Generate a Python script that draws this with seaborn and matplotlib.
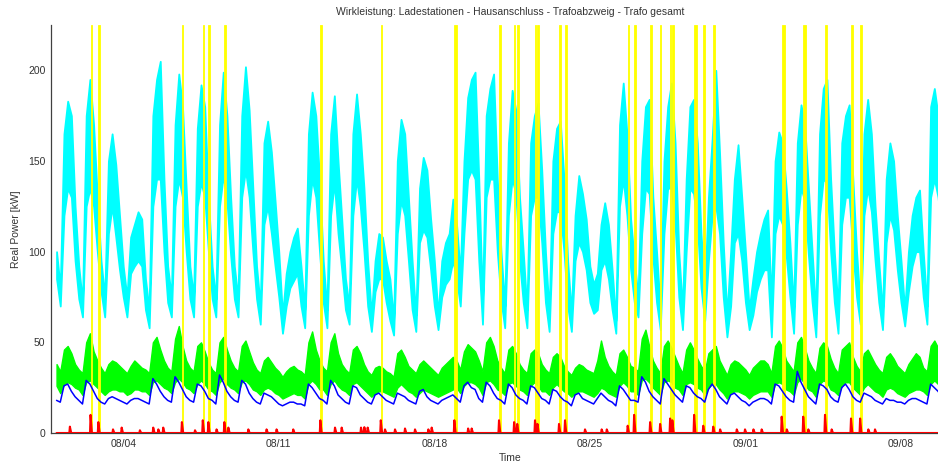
import matplotlib
matplotlib.use("Agg")
import matplotlib.pyplot as plt
import matplotlib.dates as mdates
import numpy as np
import pandas as pd
import seaborn as sns

# ---------------- data ----------------
# 4-hour samples starting 2013-08-01 00:00 (slots 00,04,08,12,16,20 h per day)
start_date = "2013-08-01"

# Trafo gesamt (cyan) - upper / lower envelope of the noisy signal [kW]
trafo_hi = [
    100, 80, 165, 183, 175, 125,   92, 72, 175, 195, 170, 130,   95, 75, 150, 165, 148, 120,
    92, 75, 108, 115, 122, 118,    85, 68, 175, 195, 205, 140,   92, 75, 170, 198, 180, 135,
    92, 75, 168, 192, 180, 130,    92, 74, 170, 199, 175, 130,   92, 74, 175, 202, 178, 135,
    92, 70, 160, 172, 155, 128,    100, 65, 88, 100, 108, 113,   92, 68, 165, 188, 175, 140,
    95, 68, 165, 186, 150, 118,    85, 70, 165, 187, 165, 135,   95, 65, 95, 110, 108, 95,
    85, 62, 150, 173, 165, 130,    95, 65, 135, 152, 145, 118,   95, 65, 95, 105, 110, 129,
    115, 88, 150, 185, 195, 199,   140, 72, 175, 190, 198, 140,  100, 70, 160, 189, 178, 130,
    100, 68, 160, 175, 182, 145,   100, 66, 150, 168, 172, 140,  95, 66, 120, 142, 132, 118,
    92, 82, 88, 115, 127, 115,     90, 62, 170, 193, 165, 118,   95, 75, 150, 180, 184, 130,
    100, 68, 150, 180, 193, 160,   100, 68, 140, 180, 184, 160,  110, 80, 130, 162, 200, 155,
    105, 65, 100, 140, 159, 130,   100, 68, 85, 100, 110, 118,   123, 72, 150, 166, 160, 135,
    105, 68, 160, 181, 170, 135,   100, 66, 165, 190, 195, 140,  100, 68, 160, 175, 181, 140,
    100, 70, 165, 184, 165, 125,   95, 66, 140, 160, 150, 120,   95, 68, 100, 120, 130, 134,
    100, 70, 180, 190, 175, 150,
]
trafo_lo = [
    85, 70, 120, 135, 130, 95,     74, 64, 125, 135, 125, 100,   78, 64, 110, 125, 108, 90,
    75, 64, 88, 92, 95, 92,        68, 58, 125, 140, 140, 100,   72, 64, 125, 140, 130, 100,
    74, 64, 125, 138, 130, 100,    74, 64, 125, 142, 128, 98,    74, 64, 130, 145, 130, 100,
    74, 60, 115, 125, 110, 92,     75, 55, 70, 80, 84, 88,       70, 58, 120, 140, 130, 100,
    72, 58, 120, 138, 110, 90,     68, 60, 120, 140, 125, 100,   70, 56, 78, 85, 85, 72,
    62, 54, 110, 128, 120, 95,     68, 56, 105, 112, 108, 90,    70, 57, 75, 82, 85, 95,
    85, 70, 110, 140, 145, 140,    95, 60, 130, 140, 140, 100,   73, 58, 120, 140, 132, 95,
    72, 58, 120, 130, 130, 105,    72, 56, 110, 122, 122, 100,   70, 56, 95, 105, 100, 90,
    72, 66, 68, 90, 95, 85,        68, 55, 125, 140, 120, 90,    72, 64, 110, 135, 132, 97,
    72, 57, 110, 135, 135, 115,    75, 57, 100, 135, 132, 115,   80, 62, 95, 120, 125, 110,
    75, 53, 70, 105, 110, 95,      72, 57, 65, 78, 85, 90,       90, 53, 110, 120, 115, 98,
    75, 55, 115, 135, 128, 98,     72, 53, 120, 140, 138, 100,   72, 55, 115, 130, 130, 100,
    75, 60, 120, 135, 122, 95,     72, 57, 105, 120, 112, 90,    72, 59, 78, 92, 100, 100,
    75, 60, 130, 140, 130, 110,
]

# Trafoabzweig (green) - upper / lower envelope [kW]
abzweig_hi = [
    38, 34, 46, 48, 44, 38,   35, 33, 50, 55, 45, 40,   36, 33, 38, 40, 39, 37,
    35, 33, 37, 40, 38, 36,   35, 33, 50, 53, 46, 40,   36, 34, 52, 59, 48, 40,
    36, 34, 48, 50, 45, 39,   35, 33, 50, 53, 46, 40,   36, 34, 48, 51, 45, 39,
    35, 33, 40, 42, 39, 36,   34, 31, 34, 36, 37, 35,   34, 32, 50, 56, 46, 40,
    36, 34, 50, 55, 44, 38,   35, 33, 46, 48, 44, 38,   34, 32, 36, 37, 36, 34,
    33, 31, 44, 46, 42, 37,   35, 33, 38, 40, 38, 36,   34, 32, 36, 38, 40, 42,
    40, 35, 45, 49, 47, 45,   40, 34, 50, 53, 48, 40,   36, 33, 46, 48, 44, 38,
    35, 33, 44, 46, 44, 38,   35, 33, 42, 44, 42, 37,   34, 32, 36, 38, 37, 35,
    34, 33, 40, 51, 42, 37,   34, 32, 44, 46, 42, 37,   36, 34, 52, 57, 48, 40,
    36, 33, 48, 51, 47, 42,   37, 33, 46, 50, 46, 41,   37, 34, 44, 46, 48, 40,
    36, 32, 38, 40, 39, 37,   35, 32, 36, 38, 40, 40,   38, 33, 48, 51, 47, 40,
    37, 34, 50, 53, 47, 40,   36, 33, 47, 50, 48, 41,   36, 33, 46, 48, 50, 42,
    37, 34, 44, 46, 42, 38,   35, 33, 42, 44, 41, 37,   35, 33, 38, 41, 44, 42,
    36, 34, 48, 51, 47, 42,
]
abzweig_lo = [
    26, 22, 27, 28, 27, 25,   24, 21, 28, 29, 27, 25,   23, 21, 23, 24, 24, 23,
    23, 21, 22, 24, 24, 23,   23, 21, 28, 29, 27, 25,   24, 22, 28, 30, 28, 25,
    24, 22, 27, 29, 27, 24,   23, 21, 28, 30, 27, 25,   24, 22, 28, 29, 27, 24,
    23, 21, 24, 25, 24, 22,   21, 19, 20, 21, 22, 21,   21, 19, 27, 29, 27, 24,
    24, 21, 27, 29, 26, 24,   23, 21, 27, 28, 26, 24,   22, 20, 22, 23, 23, 22,
    21, 20, 25, 27, 25, 23,   22, 20, 22, 24, 23, 22,   21, 20, 21, 22, 23, 24,
    25, 22, 26, 28, 28, 27,   25, 21, 28, 29, 27, 24,   23, 21, 27, 28, 26, 24,
    23, 21, 26, 28, 26, 23,   23, 21, 25, 27, 25, 23,   22, 20, 22, 23, 23, 22,
    21, 20, 22, 25, 24, 22,   21, 20, 26, 28, 26, 23,   23, 21, 29, 30, 28, 25,
    23, 21, 28, 29, 28, 25,   24, 21, 27, 28, 27, 25,   24, 21, 25, 27, 27, 24,
    22, 19, 22, 23, 23, 22,   21, 19, 21, 22, 23, 23,   23, 20, 27, 28, 27, 24,
    23, 21, 28, 30, 27, 24,   23, 20, 27, 29, 28, 24,   23, 21, 26, 28, 28, 25,
    23, 21, 25, 27, 25, 23,   22, 20, 24, 25, 24, 22,   21, 20, 22, 23, 24, 24,
    23, 21, 27, 29, 27, 25,
]

# Hausanschluss (blue) [kW]
hausanschluss = [
    18, 17, 26, 27, 23, 20,   18, 16, 29, 27, 23, 19,   17, 16, 19, 20, 19, 18,
    17, 16, 18, 19, 19, 18,   17, 16, 30, 27, 23, 20,   18, 17, 31, 28, 24, 20,
    18, 17, 27, 26, 23, 19,   18, 16, 32, 28, 23, 20,   18, 17, 29, 27, 22, 19,
    17, 16, 22, 21, 20, 18,   16, 15, 16, 17, 17, 16,   16, 15, 27, 25, 22, 19,
    18, 16, 29, 26, 21, 19,   17, 16, 26, 25, 21, 19,   17, 16, 21, 22, 20, 18,
    17, 16, 22, 21, 20, 18,   17, 16, 23, 24, 20, 18,   17, 16, 18, 19, 20, 21,
    19, 17, 26, 28, 25, 24,   19, 17, 28, 26, 22, 19,   18, 16, 27, 25, 21, 19,
    18, 16, 26, 25, 22, 19,   18, 16, 24, 23, 20, 18,   17, 15, 21, 22, 19, 18,
    17, 16, 19, 22, 20, 18,   17, 15, 26, 24, 21, 18,   18, 17, 31, 28, 23, 20,
    18, 16, 30, 27, 24, 21,   19, 17, 26, 25, 22, 20,   19, 17, 24, 27, 24, 20,
    18, 16, 21, 22, 20, 18,   17, 15, 17, 18, 19, 19,   18, 16, 27, 26, 23, 20,
    18, 17, 34, 28, 24, 20,   18, 16, 27, 26, 24, 20,   18, 17, 25, 27, 24, 20,
    18, 17, 22, 21, 20, 18,   17, 16, 19, 18, 18, 17,   17, 16, 18, 19, 19, 18,
    17, 16, 27, 25, 23, 20,
]

# Ladestationen (red): charging peaks, day offset from start and height [kW]
lade_day = [0.60, 1.53, 1.88, 2.54, 2.93, 3.75, 4.35, 4.58, 4.80, 5.64, 6.23, 6.58,
            6.83, 7.20, 7.55, 7.73, 8.63, 9.45, 9.90, 10.65, 11.87, 12.53, 12.83,
            13.70, 13.85, 14.00, 14.59, 14.78, 15.23, 15.68, 16.13, 16.73, 16.88,
            17.90, 18.52, 18.68, 19.91, 20.59, 20.73, 21.53, 21.64, 22.61, 22.88,
            23.78, 24.53, 24.76, 25.70, 25.99, 26.71, 27.16, 27.61, 27.71, 28.69,
            29.10, 29.55, 29.86, 30.61, 30.98, 31.36, 31.73, 32.63, 32.86, 33.60,
            33.83, 34.58, 34.88, 35.75, 36.16, 36.53, 36.83]
lade_kw = [3.5, 10, 6, 2, 3, 1.5, 3, 2, 3, 6, 1.5, 7,
           6, 2, 6, 3, 2, 2, 2, 2, 7, 3, 3,
           3, 3.2, 3, 7, 2, 2, 2.5, 2, 2, 3,
           7, 2.5, 2.5, 7, 6, 5, 7, 5, 5, 7,
           2, 2, 2, 4, 10, 6, 5, 8, 7, 10,
           4, 3.5, 2, 2, 2, 2, 2, 9, 2, 9,
           2, 10, 2, 8, 8, 2, 2]

# Charging events (yellow markers): start (day offset) and duration (days)
event_day = [1.53, 1.88, 5.64, 6.58, 6.83, 7.55, 11.87, 14.59, 17.90, 19.91, 20.59,
             20.73, 21.53, 21.64, 22.61, 22.88, 25.70, 25.99, 26.71, 27.16, 27.61,
             27.71, 28.69, 29.10, 29.55, 32.63, 33.60, 34.58, 35.75, 36.16]
event_len = [0.07, 0.07, 0.07, 0.07, 0.07, 0.07, 0.06, 0.07, 0.13, 0.07, 0.06,
             0.06, 0.06, 0.06, 0.07, 0.10, 0.06, 0.08, 0.07, 0.06, 0.06,
             0.06, 0.13, 0.06, 0.07, 0.15, 0.13, 0.11, 0.10, 0.08]

title = "Wirkleistung: Ladestationen - Hausanschluss - Trafoabzweig - Trafo gesamt"
x_label = "Time"
y_label = "Real Power [kW]"
y_ticks = [0, 50, 100, 150, 200]
x_tick_dates = ["2013-08-04", "2013-08-11", "2013-08-18", "2013-08-25", "2013-09-01", "2013-09-08"]

# ---------------- plotting ----------------
sns.set_theme(style="white")
plt.rcParams["font.family"] = ["Liberation Sans", "DejaVu Sans"]

base = pd.Timestamp(start_date)
times = pd.date_range(start_date, periods=len(trafo_hi), freq="4h")

df = pd.DataFrame({"time": times, "trafo_hi": trafo_hi, "trafo_lo": trafo_lo,
                   "abz_hi": abzweig_hi, "abz_lo": abzweig_lo, "haus": hausanschluss})

# red series built from charging peaks (zero between peaks)
r_t, r_v = [0.0], [0.0]
for d, h in sorted(zip(lade_day, lade_kw)):
    r_t += [d - 0.025, d, d + 0.06]
    r_v += [0.0, h, 0.0]
r_t.append(len(trafo_hi) / 6.0)
r_v.append(0.0)
df_red = pd.DataFrame({"time": [base + pd.Timedelta(days=v) for v in r_t], "kw": r_v})

fig = plt.figure(figsize=(9.38, 4.63), dpi=100)
ax = fig.add_axes([51 / 938, 30 / 463, 918 / 938, 408 / 463])

CYAN, GREEN, BLUE, RED, YELLOW = "#00FFFF", "#00FF00", "#0000FF", "#FF0000", "#FFFF00"

ax.fill_between(df["time"], df["trafo_lo"], df["trafo_hi"], color=CYAN, lw=1.3,
                edgecolor=CYAN, zorder=2)
ax.fill_between(df["time"], df["abz_lo"], df["abz_hi"], color=GREEN, lw=1.0,
                edgecolor=GREEN, zorder=3)
for d, L in zip(event_day, event_len):
    s = base + pd.Timedelta(days=d)
    e = base + pd.Timedelta(days=d + L)
    ax.axvspan(mdates.date2num(s), mdates.date2num(e), color=YELLOW, lw=0.6, zorder=4)
sns.lineplot(data=df, x="time", y="haus", color=BLUE, lw=1.1, ax=ax, zorder=5)
sns.lineplot(data=df_red, x="time", y="kw", color=RED, lw=1.5, ax=ax, zorder=6)

ax.set_xlim(mdates.date2num(base - pd.Timedelta(days=0.25)),
            mdates.date2num(base + pd.Timedelta(days=41.06)))
ax.set_ylim(0, 225)
ax.set_yticks(y_ticks)
ax.set_xticks([mdates.date2num(pd.Timestamp(d)) for d in x_tick_dates])
ax.xaxis.set_major_formatter(mdates.DateFormatter("%m/%d"))

for s in ["top", "right"]:
    ax.spines[s].set_visible(False)
for s in ["left", "bottom"]:
    ax.spines[s].set_color("#404040")
    ax.spines[s].set_linewidth(0.9)
ax.tick_params(direction="in", length=5, width=0.8, colors="#404040",
               labelcolor="#333333", labelsize=7.5, pad=4)

ax.set_title(title, fontsize=7.5, color="#333333", pad=7)
ax.set_xlabel(x_label, fontsize=7.5, color="#333333", labelpad=3)
ax.set_ylabel(y_label, fontsize=7.5, color="#333333", labelpad=5)

fig.savefig("out.png", dpi=100)
